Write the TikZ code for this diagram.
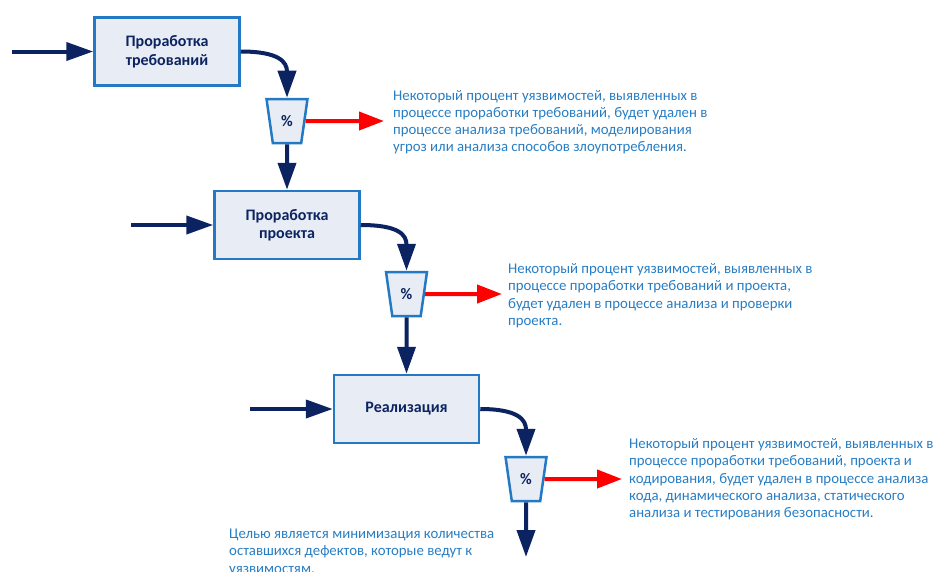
\documentclass[tikz,border=0pt]{standalone}
\usepackage{fontspec}
\setmainfont{Carlito}
\usetikzlibrary{arrows.meta,shapes.geometric}
\definecolor{navy}{RGB}{12,35,97}
\definecolor{boxfill}{RGB}{232,237,245}
\definecolor{boxline}{RGB}{36,121,196}
\definecolor{notecol}{RGB}{40,125,195}
\begin{document}
\begin{tikzpicture}[x=1pt,y=-1pt,
 stage/.style={draw=boxline,line width=2.5pt,fill=boxfill,minimum width=145pt,minimum height=68pt,font=\fontsize{16}{18.5}\selectfont\bfseries,text=navy,align=center,inner sep=0},
 pct/.style={trapezium,shape border rotate=180,trapezium stretches=true,draw=boxline,line width=2.5pt,fill=boxfill,minimum width=41pt,minimum height=44pt,trapezium left angle=77,trapezium right angle=77,font=\bfseries\fontsize{16}{18}\selectfont,text=navy,inner sep=0},
 flow/.style={draw=navy,line width=4pt,-{Triangle[length=27pt,width=18pt]}},
 outflow/.style={draw=red,line width=4pt,-{Triangle[length=25pt,width=18pt]}},
 note/.style={anchor=north west,align=left,inner sep=0,text=notecol,font=\fontsize{14.8}{17.2}\selectfont}]
\useasboundingbox (0,0) rectangle (933,571);
\node[stage] (b1) at (167,51.5) {Проработка\\требований};
\node[pct] (p1) at (287,121) {\%};
\node[stage] (b2) at (287,225) {Проработка\\проекта};
\node[pct] (p2) at (406.5,294) {\%};
\node[stage] (b3) at (406.5,409) {Реализация};
\node[pct] (p3) at (526,479) {\%};
\coordinate (i1) at (12,51.5);
\coordinate (i2) at (131,225);
\coordinate (i3) at (250,409);
\coordinate (r1) at (384,121);
\coordinate (r2) at (502,294);
\coordinate (r3) at (622,479);
\coordinate (e3) at (526,557);
\draw[flow] (i1) -- (b1);
\draw[flow] (i2) -- (b2);
\draw[flow] (i3) -- (b3);
\draw[flow] (b1.east) .. controls +(38,0) and +(0,-36) .. (p1.north);
\draw[flow] (b2.east) .. controls +(38,0) and +(0,-36) .. (p2.north);
\draw[flow] (b3.east) .. controls +(38,0) and +(0,-36) .. (p3.north);
\draw[flow] (p1.south) -- (b2.north);
\draw[flow] (p2.south) -- (b3.north);
\draw[flow] (p3.south) -- (e3);
\draw[outflow] (p1.east) -- (r1);
\draw[outflow] (p2.east) -- (r2);
\draw[outflow] (p3.east) -- (r3);
\node[note] (t1) at (393,90) {Некоторый процент уязвимостей, выявленных в\\процессе проработки требований, будет удален в\\процессе анализа требований, моделирования\\угроз или анализа способов злоупотребления.};
\node[note] (t2) at (508,263.5) {Некоторый процент уязвимостей, выявленных в\\процессе проработки требований и проекта,\\будет удален в процессе анализа и проверки\\проекта.};
\node[note] (t3) at (629,438.5) {Некоторый процент уязвимостей, выявленных в\\процессе проработки требований, проекта и\\кодирования, будет удален в процессе анализа\\кода, динамического анализа, статического\\анализа и тестирования безопасности.};
\node[note] (t4) at (229,529) {Целью является минимизация количества\\оставшихся дефектов, которые ведут к\\уязвимостям.};
\end{tikzpicture}
\end{document}
